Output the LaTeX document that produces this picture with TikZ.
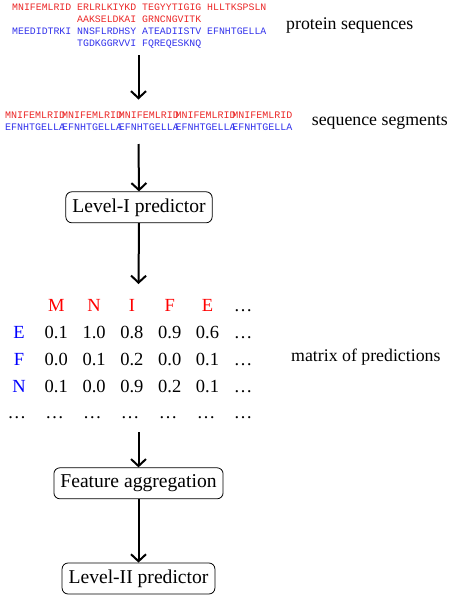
\documentclass[tikz,border=0pt]{standalone}
\usepackage{fontspec}
\setmainfont{Liberation Serif}
\newfontfamily\monof{Liberation Mono}
\usetikzlibrary{arrows.meta}
\definecolor{seqred}{RGB}{235,40,40}
\definecolor{seqblue}{RGB}{50,50,235}
\tikzset{
  seqtxt/.style={font=\monof\fontsize{9.85}{12}\selectfont, inner sep=0pt, anchor=base west},
  segtxt/.style={font=\monof\fontsize{10}{12}\selectfont, inner sep=0pt, anchor=base west},
  lbl/.style={font=\fontsize{17.8}{20}\selectfont, inner sep=0pt, anchor=base west},
  stepbox/.style={draw, rounded corners=6pt, line width=0.8pt, font=\fontsize{19.6}{22}\selectfont, inner xsep=6.5pt, inner ysep=0pt, minimum height=31pt},
  mat/.style={font=\fontsize{18.5}{20}\selectfont, inner sep=0pt, anchor=base},
  arr/.style={line width=2pt, -{Straight Barb[length=7pt,width=15pt,line width=2pt]}}
}
\begin{document}
\begin{tikzpicture}[x=1pt,y=-1pt]
\useasboundingbox (0,0) rectangle (451,600);
% protein sequences
\node[seqtxt, text=seqred] (s1) at (12,10) {MNIFEMLRID ERLRLKIYKD TEGYYTIGIG HLLTKSPSLN};
\node[seqtxt, text=seqred] (s2) at (77,22.3) {AAKSELDKAI GRNCNGVITK};
\node[seqtxt, text=seqblue] (s3) at (12,34.6) {MEEDIDTRKI NNSFLRDHSY ATEADIISTV EFNHTGELLA};
\node[seqtxt, text=seqblue] (s4) at (77,46.3) {TGDKGGRVVI FQREQESKNQ};
\node[lbl] (lprot) at (286,29.5) {protein sequences};
% segments
\foreach \k in {0,...,4}{
  \node[segtxt, text=seqred] (r\k) at (5+56.8*\k,118.5) {MNIFEMLRID};
  \node[segtxt, text=seqblue] (b\k) at (5+56.8*\k,130.5) {EFNHTGELLA};
}
\node[lbl] (lseg) at (311.7,125) {sequence segments};
% boxes
\node[stepbox] (lev1) at (139,207.3) {Level-I predictor};
\node[stepbox] (feat) at (138.5,483.3) {Feature aggregation};
\node[stepbox] (lev2) at (138.5,578.5) {Level-II predictor};
% matrix
\foreach \t [count=\i from 0] in {M,N,I,F,E}{
  \node[mat, text=red] (h\i) at (56.3+37.8*\i,311) {\t};
}
\node[mat] (hd) at (243,311) {…};
\node[mat, text=blue] (rE) at (19,338.5) {E};
\node[mat, text=blue] (rF) at (19,365) {F};
\node[mat, text=blue] (rN) at (19,392) {N};
\foreach \v [count=\i from 0] in {0.1,1.0,0.8,0.9,0.6}{
  \node[mat] (e\i) at (56.3+37.8*\i,338.5) {\v};
}
\node[mat] (ed) at (243,338.5) {…};
\foreach \v [count=\i from 0] in {0.0,0.1,0.2,0.0,0.1}{
  \node[mat] (f\i) at (56.3+37.8*\i,365) {\v};
}
\node[mat] (fd) at (243,365) {…};
\foreach \v [count=\i from 0] in {0.1,0.0,0.9,0.2,0.1}{
  \node[mat] (n\i) at (56.3+37.8*\i,392) {\v};
}
\node[mat] (nd) at (243,392) {…};
\foreach \xx [count=\i from 0] in {17,54.5,92.3,130.1,168,206,243}{
  \node[mat] (d\i) at (\xx,418.5) {…};
}
\node[lbl] (lmat) at (291,361.5) {matrix of predictions};
% arrow end points
\coordinate (a1s) at (138.5,55);
\coordinate (a1e) at (138.5,99.5);
\coordinate (a2s) at (138.5,144);
\coordinate (a3e) at (138.5,284);
\coordinate (a4s) at (138.5,432);
\draw[arr] (a1s) -- (a1e);
\draw[arr] (a2s) -- (lev1.north);
\draw[arr] (lev1.south) -- (a3e);
\draw[arr] (a4s) -- (feat.north);
\draw[arr] (feat.south) -- (lev2.north);
\end{tikzpicture}
\end{document}
